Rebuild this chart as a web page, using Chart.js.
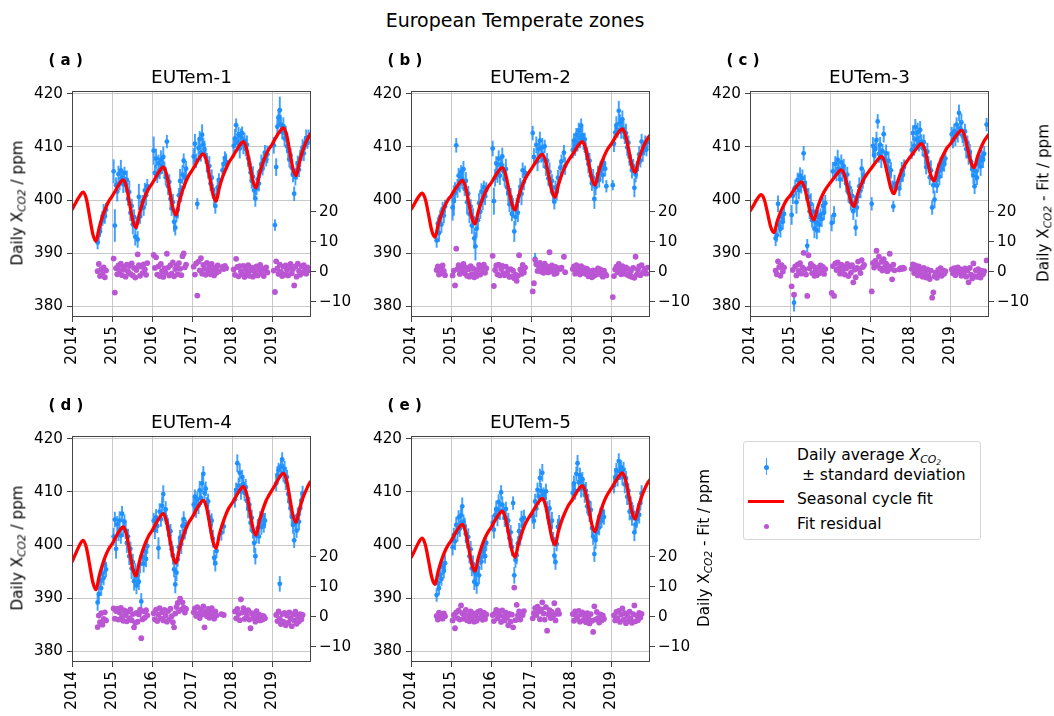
<!DOCTYPE html>
<html>
<head>
<meta charset="utf-8">
<script src="https://cdn.jsdelivr.net/npm/chart.js@4.4.1/dist/chart.umd.min.js"></script>
<style>
  body { margin: 0; background: #fff; font-family: 'DejaVu Sans', sans-serif; color: #000; }
  #fig { position: relative; width: 1054px; height: 716px; overflow: hidden; }
  #fig canvas { position: absolute; }
  .txt { position: absolute; white-space: nowrap; line-height: 1; }
  .ttl { font-size: 18.4px; width: 300px; margin-left: -150px; text-align: center; }
  .tag { font-size: 15px; font-weight: bold; }
  .ylab { font-size: 15.2px; transform: translate(-50%, -50%) rotate(-90deg); }
  .sub { font-style: italic; font-size: 70%; position: relative; top: 0.3em; }
  .sub2 { font-size: 70%; position: relative; top: 0.25em; }
  #legend { position: absolute; left: 743px; top: 441px; width: 236px; height: 97px;
            border: 1px solid #d6d6d6; border-radius: 3px; background: #fff; }
  .lg { position: absolute; white-space: nowrap; line-height: 1; font-size: 15.5px; }
</style>
</head>
<body>
<div id="fig">
  <div class="txt" style="left:315px;width:400px;text-align:center;top:11px;font-size:19px">European Temperate zones</div>
</div>
<script>
// observation days, one row per observing season
const obsYears = [
  [2014.64, 2014.67, 2014.70, 2014.73, 2014.76, 2014.79, 2014.82, 2014.85],
  [2015.04, 2015.07, 2015.10, 2015.13, 2015.16, 2015.19, 2015.22, 2015.25, 2015.28, 2015.31, 2015.34, 2015.37, 2015.40, 2015.43, 2015.46, 2015.49, 2015.52, 2015.55, 2015.58, 2015.61, 2015.64, 2015.67, 2015.70, 2015.73, 2015.76, 2015.79, 2015.82, 2015.85, 2015.88],
  [2016.04, 2016.07, 2016.10, 2016.13, 2016.16, 2016.19, 2016.22, 2016.25, 2016.28, 2016.31, 2016.34, 2016.37, 2016.40, 2016.43, 2016.46, 2016.49, 2016.52, 2016.55, 2016.58, 2016.61, 2016.64, 2016.67, 2016.70, 2016.73, 2016.76, 2016.79, 2016.82, 2016.85],
  [2017.04, 2017.07, 2017.10, 2017.13, 2017.16, 2017.19, 2017.22, 2017.25, 2017.28, 2017.31, 2017.34, 2017.37, 2017.40, 2017.43, 2017.46, 2017.49, 2017.52, 2017.55, 2017.58, 2017.61, 2017.64, 2017.67, 2017.70, 2017.73, 2017.76, 2017.79, 2017.82, 2017.85],
  [2018.04, 2018.07, 2018.10, 2018.13, 2018.16, 2018.19, 2018.22, 2018.25, 2018.28, 2018.31, 2018.34, 2018.37, 2018.40, 2018.43, 2018.46, 2018.49, 2018.52, 2018.55, 2018.58, 2018.61, 2018.64, 2018.67, 2018.70, 2018.73, 2018.76, 2018.79, 2018.82, 2018.85, 2018.88],
  [2019.04, 2019.07, 2019.10, 2019.13, 2019.16, 2019.19, 2019.22, 2019.25, 2019.28, 2019.31, 2019.34, 2019.37, 2019.40, 2019.43, 2019.46, 2019.49, 2019.52, 2019.55, 2019.58, 2019.61, 2019.64, 2019.67, 2019.70, 2019.73, 2019.76, 2019.79, 2019.82, 2019.85, 2019.88, 2019.91]
];

// sampling of the seasonal cycle fit
const fitYears = [
  [2014, 2014.08, 2014.17, 2014.28, 2014.36, 2014.44, 2014.52, 2014.6, 2014.68, 2014.76, 2014.84, 2014.92],
  [2015, 2015.08, 2015.17, 2015.28, 2015.36, 2015.44, 2015.52, 2015.6, 2015.68, 2015.76, 2015.84, 2015.92],
  [2016, 2016.08, 2016.17, 2016.28, 2016.36, 2016.44, 2016.52, 2016.6, 2016.68, 2016.76, 2016.84, 2016.92],
  [2017, 2017.08, 2017.17, 2017.28, 2017.36, 2017.44, 2017.52, 2017.6, 2017.68, 2017.76, 2017.84, 2017.92],
  [2018, 2018.08, 2018.17, 2018.28, 2018.36, 2018.44, 2018.52, 2018.6, 2018.68, 2018.76, 2018.84, 2018.92],
  [2019, 2019.08, 2019.17, 2019.28, 2019.36, 2019.44, 2019.52, 2019.6, 2019.68, 2019.76, 2019.84, 2019.92],
  [2020]
];

const yearTicks = [2014, 2015, 2016, 2017, 2018, 2019];
const ppmTicks = [380, 390, 400, 410, 420];
const residTicks = [-10, 0, 10, 20];
const panelNames = ['EUTem-1', 'EUTem-2', 'EUTem-3', 'EUTem-4', 'EUTem-5'];
const panelTags = ['( a )', '( b )', '( c )', '( d )', '( e )'];

// ---- EUTem-1
const fitA = [
  [398.2, 399.3, 400.5, 401.5, 400.2, 396.9, 393.6, 392.3, 394.8, 396.9, 398.5, 399.8],
  [400.7, 401.7, 402.9, 403.8, 402.5, 399.3, 396.1, 394.8, 397.3, 399.4, 401.0, 402.2],
  [403.1, 404.1, 405.3, 406.2, 404.9, 401.7, 398.5, 397.2, 399.7, 401.8, 403.4, 404.7],
  [405.6, 406.6, 407.8, 408.7, 407.4, 404.3, 401.1, 399.8, 402.3, 404.3, 405.8, 407.1],
  [408.0, 409.0, 410.1, 411.0, 409.7, 406.7, 403.6, 402.3, 404.8, 406.8, 408.4, 409.6],
  [410.5, 411.6, 412.7, 413.6, 412.3, 409.1, 405.9, 404.6, 407.1, 409.2, 410.8, 412.0],
  [412.9]
];
const xco2A = [
  [392.0, 393.6, 394.1, 395.8, 396.3, 397.6, 396.9, 398.2],
  [405.4, 395.2, 402.8, 401.6, 404.9, 403.1, 405.6, 404.2, 403.0, 405.1, 402.9, 403.8, 400.2, 401.5, 397.6, 398.9, 395.4, 396.8, 393.1, 395.6, 392.6, 400.6, 396.9, 398.4, 399.7, 398.6, 401.8, 400.9, 402.6],
  [409.3, 405.1, 407.8, 404.6, 406.9, 405.2, 407.6, 406.4, 408.1, 405.9, 404.3, 411.0, 402.6, 403.4, 400.2, 398.4, 399.6, 395.9, 394.8, 397.1, 398.2, 400.9, 403.6, 401.2, 404.8, 407.4, 404.2, 405.9],
  [408.2, 410.6, 407.4, 399.3, 409.8, 411.5, 408.9, 412.3, 410.4, 409.6, 408.1, 407.2, 405.5, 406.4, 403.1, 404.2, 401.8, 400.6, 398.9, 400.9, 402.4, 403.8, null, null, 405.6, 406.8, 407.9, 407.2],
  [410.2, 411.6, 414.1, 410.8, 412.4, 409.7, 411.9, 412.6, 410.3, 411.2, 409.6, 410.4, 407.8, 406.9, 405.2, 403.6, 404.4, 401.8, 400.3, 402.2, 403.9, 403.1, 405.5, 406.8, 405.9, 407.6, 408.9, 407.7, 408.6],
  [410.3, 395.3, 406.2, 413.8, 415.6, 416.9, 414.2, 412.8, 413.9, 411.6, 412.4, 410.1, 409.3, 407.6, 408.4, 406.1, 404.8, 401.2, 404.3, 405.6, 406.9, 405.7, 407.8, 408.6, 409.9, 408.8, 410.7, 411.6, 410.9, 411.8]
];
const sdA = [
  [1.2, 1.5, 1.0, 1.4, 1.1, 1.6, 1.3, 1.2],
  [2.2, 3.0, 1.4, 1.8, 1.5, 1.2, 1.9, 1.3, 1.6, 1.1, 1.4, 1.7, 1.2, 2.1, 1.5, 1.3, 1.8, 1.4, 1.6, 1.2, 1.5, 2.4, 1.3, 1.7, 1.2, 1.5, 1.4, 1.9, 1.3],
  [2.6, 1.5, 1.8, 1.3, 1.6, 1.2, 1.7, 1.4, 1.9, 1.3, 1.5, 1.2, 1.6, 1.4, 2.0, 1.3, 1.5, 1.8, 1.4, 1.2, 1.6, 1.3, 2.2, 1.5, 1.7, 1.3, 1.9, 1.4],
  [1.5, 1.8, 1.3, 1.0, 1.7, 1.4, 1.6, 1.9, 1.3, 1.5, 1.2, 1.6, 1.4, 1.8, 1.3, 1.5, 1.2, 1.7, 1.4, 1.3, 1.6, 1.2, 0, 0, 1.4, 1.3, 1.2, 1.5],
  [1.4, 1.7, 1.2, 1.6, 1.3, 1.8, 1.5, 1.2, 1.6, 1.4, 1.3, 1.7, 1.5, 1.2, 1.6, 1.4, 1.9, 1.3, 1.5, 1.2, 1.6, 1.4, 1.3, 1.7, 1.2, 1.5, 1.4, 1.3, 1.6],
  [1.5, 1.0, 1.6, 1.8, 1.4, 2.5, 1.7, 1.3, 1.6, 1.4, 1.5, 1.2, 1.7, 1.4, 1.3, 1.6, 1.4, 1.3, 1.5, 1.7, 1.4, 1.3, 1.6, 1.2, 1.5, 1.4, 1.3, 1.6, 1.2, 1.4]
];
const residA = [
  [0.2, 2.6, -1.4, 0.8, -0.9, 1.5, -1.8, 0.4],
  [4.4, -6.9, 1.2, -0.8, 2.1, 0.3, 2.7, -1.1, 1.6, 0.7, -1.6, 2.4, 0.1, 1.9, -0.7, 2.8, -1.2, 1.3, -1.9, 0.6, 5.8, 2.2, -1.3, 1.7, -0.4, 2.5, 0.8, -1.0, 2.9],
  [5.6, 1.3, 4.8, -0.9, 1.8, -1.4, 2.6, 0.2, -1.7, 1.1, -0.3, 6.0, 1.4, -1.2, 2.2, -0.6, 3.1, -1.5, 0.9, 2.0, -0.8, 2.9, 1.0, -1.1, 5.2, 6.1, 1.5, 2.4],
  [1.7, -0.9, 2.8, -7.9, 3.4, 0.5, 4.5, -0.6, 2.3, 1.0, -1.0, 3.0, 0.4, 1.8, -0.8, 2.6, 0.6, -1.2, 1.4, -0.3, 2.1, 0.2, null, null, 1.6, 0.9, 2.0, 1.2],
  [0.8, -1.0, 4.3, 1.6, -1.5, 1.9, 0.2, -0.8, 2.0, -1.7, 0.9, -0.4, 2.2, -1.3, 0.5, 1.4, -1.6, 0.3, -0.9, 1.8, -1.2, 0.6, 2.3, -0.6, 1.1, -1.4, 0.4, 1.5, -0.2],
  [0.4, -6.7, 3.5, 1.1, -0.7, 2.4, 0.0, -1.4, 1.7, -0.9, 2.1, 0.6, -1.2, 1.3, 2.6, -0.5, 0.9, -4.5, 1.8, -1.6, 2.7, 0.3, -1.0, 1.9, -0.3, 2.2, 0.8, -0.6, 1.5, 0.5]
];

// ---- EUTem-2
const fitB = [
  [398.2, 399.2, 400.4, 401.3, 400.1, 397.2, 394.2, 393.0, 395.4, 397.3, 398.8, 400.0],
  [400.8, 401.8, 402.8, 403.7, 402.5, 399.6, 396.7, 395.5, 397.8, 399.7, 401.2, 402.4],
  [403.2, 404.2, 405.3, 406.1, 404.9, 402.1, 399.3, 398.1, 400.4, 402.3, 403.8, 404.9],
  [405.8, 406.7, 407.8, 408.6, 407.4, 404.6, 401.7, 400.5, 402.8, 404.7, 406.2, 407.3],
  [408.2, 409.1, 410.2, 411.0, 409.8, 406.9, 404.0, 402.8, 405.1, 407.0, 408.5, 409.7],
  [410.5, 411.5, 412.6, 413.4, 412.2, 409.3, 406.4, 405.2, 407.4, 409.2, 410.6, 411.7],
  [412.5]
];
const xco2B = [
  [392.4, 395.6, 393.8, 396.9, 395.4, 398.3, 397.1, 398.8],
  [398.6, 399.9, 401.4, 410.3, 402.2, 404.6, 403.1, 405.3, 404.0, 405.8, 402.1, 403.6, 399.6, 401.2, 397.4, 398.8, 395.2, 396.6, 392.8, 391.3, 394.6, 396.2, 399.4, 397.8, 401.6, 399.9, 402.4, 400.7, 401.9],
  [409.7, 399.8, 404.2, 406.9, 405.1, 407.8, 404.6, 406.7, 408.2, 405.4, 403.9, 405.8, 402.4, 401.3, 399.2, 400.6, 397.4, 398.5, 394.1, 396.8, 398.9, 397.6, 400.8, 402.5, 401.2, 405.6, 403.4, 405.1],
  [412.6, 408.1, 389.0, 410.4, 407.3, 409.6, 411.2, 408.4, 409.9, 407.6, 410.1, 406.2, 407.4, 404.1, 405.3, 402.8, 403.6, 401.2, 399.7, 402.3, 401.5, 404.2, null, 406.1, 407.3, null, 408.9, 406.4],
  [409.4, 411.2, 410.1, 412.3, 410.8, 413.1, 411.6, 414.0, 412.2, 410.9, 411.4, 409.2, 408.6, 406.8, 407.4, 404.6, 403.1, 404.2, 400.2, 402.4, 403.6, 404.9, 403.8, 405.6, 406.2, 404.7, 406.8, 405.9, 402.6],
  [402.8, 410.6, 412.7, 414.1, 413.2, 416.8, 414.6, 412.9, 415.2, 413.4, 411.8, 412.6, 409.9, 410.8, 408.1, 407.2, 405.6, 406.4, 402.3, 404.8, 405.7, 406.9, 408.6, 407.4, 411.0, 408.9, 409.8, 410.6, 409.5, 410.9]
];
const sdB = [
  [1.3, 1.1, 1.6, 1.2, 1.5, 1.3, 1.4, 1.2],
  [2.4, 2.8, 1.9, 1.3, 1.7, 1.4, 1.6, 1.2, 1.8, 1.5, 1.3, 1.6, 2.2, 1.4, 1.7, 1.3, 1.5, 1.8, 1.9, 2.6, 1.6, 1.4, 1.9, 1.3, 1.5, 1.7, 1.2, 1.6, 1.4],
  [1.4, 2.5, 1.6, 1.3, 1.8, 1.5, 1.7, 1.2, 1.6, 1.4, 1.3, 1.9, 1.5, 1.7, 1.4, 1.6, 1.3, 1.8, 1.9, 1.5, 1.4, 1.7, 1.3, 1.6, 2.1, 1.4, 1.5, 1.3],
  [1.3, 1.6, 1.0, 1.5, 1.8, 1.4, 1.6, 1.3, 1.7, 1.5, 1.2, 1.6, 1.4, 1.3, 1.7, 1.5, 1.2, 1.6, 1.4, 1.3, 1.5, 1.4, 0, 1.3, 1.2, 0, 1.4, 1.6],
  [1.5, 1.3, 1.7, 1.2, 1.6, 1.4, 1.8, 1.3, 1.5, 1.4, 1.2, 1.6, 1.3, 1.7, 1.4, 1.5, 1.3, 1.6, 1.8, 1.4, 1.3, 1.5, 1.4, 1.6, 1.3, 1.5, 1.2, 1.4, 1.1],
  [0.9, 1.5, 1.3, 1.6, 1.4, 1.8, 1.5, 1.3, 1.6, 1.4, 1.2, 1.7, 1.5, 1.3, 1.6, 1.4, 1.5, 1.3, 1.7, 1.4, 1.6, 1.3, 1.5, 1.2, 1.4, 1.6, 1.3, 1.5, 1.2, 1.1]
];
const residB = [
  [0.6, 1.8, -0.9, 1.2, -0.4, 2.1, 0.3, -1.1],
  [-1.2, 0.4, -4.5, 7.7, 0.9, 2.2, -0.7, 1.8, 0.2, 2.6, -0.5, 1.4, -1.3, 0.8, -1.6, 1.9, -0.8, 1.1, -1.8, -0.6, -1.4, 0.7, 2.3, -0.9, 1.6, 0.1, 2.4, -0.3, 1.2],
  [5.3, -4.7, 0.6, 2.1, -0.8, 2.4, -1.2, 0.9, 2.0, -0.4, -1.1, 1.7, -0.6, 0.5, -1.7, 0.9, -1.5, 0.4, -2.1, -0.9, -3.0, -1.3, 5.5, 0.8, -0.7, 2.3, -0.2, 1.4],
  [-6.5, -3.8, 4.0, 2.5, 0.3, 1.9, 3.0, 0.1, 1.5, -0.3, 2.7, 0.4, 1.8, -0.2, 6.5, 0.6, 2.1, 0.2, -0.7, 1.6, -0.4, 1.2, null, 0.9, 1.4, null, 5.0, -0.1],
  [0.9, 1.8, -0.6, 2.2, 0.4, 1.6, -0.9, 1.9, 0.7, -0.4, 1.2, -0.7, 1.0, -1.5, 0.3, -1.1, -1.8, 0.5, -1.3, 0.2, -0.8, 1.1, -0.5, 0.8, -1.0, -1.6, 0.4, -0.7, -1.2],
  [-8.4, -1.4, 0.8, 1.7, -0.2, 2.6, 0.9, -0.8, 1.9, 0.4, -0.6, 1.5, -1.0, 0.9, -1.4, 0.2, -1.7, 1.3, -2.0, 5.0, -0.9, 0.6, 1.8, -1.1, 2.2, -0.4, 0.3, 1.0, -0.6, 1.4]
];

// ---- EUTem-3
const fitC = [
  [397.9, 398.9, 400.1, 401.0, 400.0, 397.5, 394.9, 393.9, 396.0, 397.7, 399.0, 400.1],
  [400.8, 401.7, 402.6, 403.4, 402.4, 399.9, 397.3, 396.3, 398.4, 400.1, 401.4, 402.4],
  [403.2, 404.0, 404.9, 405.7, 404.7, 402.3, 399.8, 398.8, 400.9, 402.6, 403.9, 404.9],
  [405.7, 406.5, 407.4, 408.2, 407.2, 404.7, 402.2, 401.2, 403.3, 405.0, 406.3, 407.3],
  [408.1, 408.9, 409.8, 410.6, 409.6, 407.1, 404.6, 403.6, 405.7, 407.4, 408.7, 409.8],
  [410.5, 411.4, 412.3, 413.1, 412.1, 409.6, 407.1, 406.1, 408.1, 409.7, 411.0, 411.9],
  [412.7]
];
const xco2C = [
  [392.8, 393.4, 399.3, 395.2, 394.6, 396.8, 395.9, 397.4],
  [397.2, 400.8, 380.7, 402.4, 399.6, 403.8, 401.9, 404.6, 402.7, 404.1, 408.8, 403.2, 401.8, 391.4, 400.6, 397.9, 399.3, 396.2, 397.8, 394.6, 395.9, 394.3, 396.8, 395.4, 397.2, 396.4, 398.9, 397.6, 399.4],
  [395.7, 405.4, 397.2, 406.8, 404.9, 407.6, 405.8, 403.9, 407.1, 405.2, 406.4, 404.6, 403.1, 404.8, 401.4, 402.3, 399.6, 400.8, 397.9, 399.4, 394.8, 398.6, 400.7, 402.6, 401.8, 405.9, 403.7, 404.4],
  [399.3, 410.2, 408.4, 409.6, 411.3, 414.8, 408.7, 410.4, 407.9, 409.2, 412.4, 407.6, 408.8, 406.2, 407.4, 404.9, 405.6, 402.4, 398.8, 403.1, null, null, null, 402.2, 403.8, 405.6, 404.7, 406.2],
  [409.4, 412.6, 410.2, 413.7, 411.4, 412.8, 410.6, 413.2, 411.0, 409.8, 410.9, 408.4, 406.2, 409.1, 406.7, 404.3, 405.6, 398.6, 402.8, 400.1, 403.9, 402.7, 405.2, 404.4, 406.6, 405.8, 407.4, 406.9, 407.8],
  [412.4, 411.3, 412.9, 411.8, 414.2, 412.6, 416.4, 413.5, 414.6, 412.1, 411.7, 412.9, 409.6, 410.8, 408.2, 409.1, 407.3, 405.8, 404.6, 402.6, 405.4, 404.2, 406.8, 407.5, 406.3, 408.1, 407.6, 408.7, null, 414.2]
];
const sdC = [
  [1.4, 1.2, 1.5, 1.3, 1.6, 1.2, 1.4, 1.3],
  [1.8, 1.5, 1.6, 1.4, 2.1, 1.3, 1.7, 1.5, 1.4, 1.6, 1.3, 1.5, 1.8, 1.2, 1.6, 1.4, 1.9, 1.3, 1.5, 1.7, 1.4, 1.6, 1.3, 1.5, 1.2, 1.4, 1.6, 1.3, 1.5],
  [1.5, 1.7, 1.6, 1.4, 1.3, 1.8, 1.5, 1.6, 1.4, 1.7, 1.3, 1.5, 1.6, 1.4, 1.8, 1.3, 1.5, 1.2, 1.6, 1.4, 1.5, 1.7, 1.3, 1.6, 1.4, 1.8, 1.5, 1.3],
  [1.2, 1.6, 1.4, 1.7, 1.5, 1.3, 1.6, 1.4, 1.8, 1.3, 1.5, 1.4, 1.6, 1.3, 1.7, 1.4, 1.5, 1.2, 1.0, 1.6, 0, 0, 0, 1.4, 1.3, 1.5, 1.2, 1.4],
  [1.6, 1.4, 1.8, 1.5, 1.3, 1.7, 1.4, 1.6, 1.3, 1.5, 1.4, 1.7, 1.3, 1.6, 1.5, 1.4, 1.8, 1.3, 1.5, 1.6, 1.4, 1.3, 1.7, 1.5, 1.4, 1.6, 1.3, 1.5, 1.4],
  [1.3, 1.5, 1.4, 1.6, 1.3, 1.7, 1.5, 1.4, 1.6, 1.3, 1.5, 1.4, 1.7, 1.3, 1.5, 1.4, 1.6, 1.3, 1.5, 1.4, 1.6, 1.3, 1.5, 1.4, 1.7, 1.3, 1.5, 1.4, 0, 1.2]
];
const residC = [
  [0.4, -0.8, 3.5, 1.6, -1.3, 2.2, 0.1, 1.4],
  [-4.8, 0.6, -7.6, 1.8, -1.2, 2.4, 0.3, 2.9, -0.6, 1.5, 6.3, 0.8, -0.9, -8.0, 5.5, 1.2, 2.6, -0.4, 1.9, -1.3, 0.6, -1.1, 1.4, -0.5, 2.1, 0.2, 1.6, -0.7, 0.9],
  [-7.0, 1.9, -8.0, 2.8, 0.6, 3.1, 1.2, -0.6, 2.4, 0.5, 1.8, -0.9, 1.1, 2.6, -1.4, 1.7, -0.3, 2.2, -3.5, 0.7, -1.8, 1.3, 3.4, 0.9, -0.4, 3.9, 1.6, 2.3],
  [-6.5, 2.9, 1.4, 3.6, 7.0, 2.2, 5.0, 1.1, 3.3, 0.4, 4.2, 1.6, 2.7, 0.2, 1.9, 6.0, 1.0, -2.5, 2.4, 0.5, null, null, null, 0.8, 1.2, 0.9, 1.4, 1.1],
  [1.0, 2.5, -0.4, 2.1, 0.6, -1.2, 1.8, -0.7, 0.9, -1.6, 1.3, -0.5, -1.9, 0.8, -1.1, -2.4, 0.4, -8.6, -6.8, -1.5, -0.3, -2.0, 0.6, -0.9, 1.2, -1.3, 0.5, -0.6, 0.2],
  [0.8, -0.5, 1.2, -1.1, 0.3, 1.5, -0.2, 0.9, -1.3, 0.6, -0.7, 1.1, -1.6, 0.4, -3.5, 1.3, -0.9, -2.2, 2.8, -1.4, 0.5, -1.7, 0.9, -0.6, -1.9, 0.3, -0.8, 0.2, null, 3.8]
];

// ---- EUTem-4
const fitD = [
  [396.8, 398.2, 399.7, 400.9, 399.5, 396.3, 393.0, 391.6, 394.2, 396.3, 398.0, 399.3],
  [400.2, 401.3, 402.5, 403.4, 402.1, 398.8, 395.5, 394.2, 396.8, 398.9, 400.5, 401.8],
  [402.7, 403.8, 405.0, 405.9, 404.5, 401.3, 397.9, 396.6, 399.2, 401.3, 403.0, 404.3],
  [405.2, 406.3, 407.5, 408.4, 407.1, 403.9, 400.7, 399.4, 402.0, 404.0, 405.7, 407.0],
  [407.9, 408.9, 410.1, 411.0, 409.7, 406.5, 403.2, 401.9, 404.5, 406.5, 408.2, 409.4],
  [410.4, 411.4, 412.6, 413.5, 412.2, 408.9, 405.6, 404.3, 406.7, 408.7, 410.2, 411.5],
  [412.3]
];
const xco2D = [
  [389.2, 390.8, 393.4, 391.9, 394.6, 393.8, 396.2, 395.4],
  [401.6, 404.8, 399.3, 403.9, 402.1, 404.6, 401.8, 405.9, 403.2, 404.4, 402.7, 400.4, 401.6, 397.9, 399.3, 395.6, 396.8, 393.2, 395.1, 392.4, 394.3, 393.1, 396.4, 389.4, 397.8, 396.5, 398.9, 397.4, 399.8],
  [404.6, 402.8, 405.2, 403.6, 399.4, 406.3, 404.9, 407.4, 409.6, 405.8, 406.7, 404.2, 403.4, 401.8, 402.6, 399.2, 398.1, 395.4, 392.6, 394.8, 397.3, 399.6, 401.4, 400.2, 403.6, 404.9, 402.7, 403.4],
  [407.6, 409.1, 406.8, 408.6, 407.4, 410.3, 408.9, 411.6, 413.4, 409.8, 410.6, 407.4, 408.2, 405.1, 403.9, 404.6, 401.2, 397.6, 396.6, 398.9, null, null, null, 402.3, null, 403.5, null, null],
  [null, 408.6, 410.4, 415.4, 411.2, 413.6, 410.1, 412.8, 411.5, 409.8, 410.9, 408.3, 406.8, 407.6, 404.2, 405.1, 402.6, 400.4, 397.9, 401.8, 403.2, 401.6, 404.8, 403.4, 405.6, 403.9, 404.6, null, null],
  [null, null, 411.6, 413.2, 414.1, 392.7, 414.8, 416.1, 413.6, 414.4, 411.9, 412.8, 409.6, 408.2, 406.9, 405.3, 403.8, 400.9, 404.2, 402.7, 405.6, 404.4, 406.9, 408.4, 409.7, null, null, null, null, null]
];
const sdD = [
  [1.5, 1.3, 1.6, 1.4, 1.7, 1.3, 1.5, 1.4],
  [1.6, 1.4, 1.8, 1.5, 1.3, 1.7, 1.5, 1.4, 1.6, 1.3, 1.5, 1.8, 1.4, 1.6, 1.3, 1.9, 1.5, 1.7, 1.4, 1.6, 1.8, 1.5, 1.7, 1.5, 1.4, 1.6, 1.3, 1.5, 1.4],
  [1.4, 1.6, 1.5, 1.3, 2.0, 1.5, 1.4, 1.7, 1.6, 1.3, 1.5, 1.4, 1.6, 1.8, 1.3, 1.5, 1.7, 1.4, 1.6, 1.5, 1.3, 1.7, 1.4, 1.8, 1.5, 1.4, 1.6, 1.3],
  [1.5, 1.3, 1.6, 1.4, 1.5, 1.7, 1.3, 1.6, 1.4, 1.5, 1.3, 1.6, 1.4, 1.5, 1.7, 1.3, 1.6, 1.4, 1.5, 1.3, 0, 0, 0, 1.4, 0, 1.3, 0, 0],
  [0, 1.5, 1.3, 1.6, 1.4, 1.7, 1.5, 1.3, 1.6, 1.4, 1.5, 1.3, 1.7, 1.4, 1.6, 1.5, 1.3, 1.8, 1.5, 1.4, 1.6, 1.3, 1.5, 1.4, 1.3, 1.5, 1.4, 0, 0],
  [0, 0, 1.4, 1.6, 1.3, 1.4, 1.5, 1.3, 1.6, 1.4, 1.5, 1.3, 1.6, 1.4, 1.5, 1.3, 1.6, 1.4, 1.5, 1.3, 1.4, 1.6, 1.3, 1.5, 1.4, 0, 0, 0, 0, 0]
];
const residD = [
  [-3.4, 0.4, -1.8, 1.2, -2.6, -0.7, 1.5, -1.2],
  [2.8, -0.6, 1.9, 2.6, -0.9, 1.4, 3.0, 0.2, -1.3, 2.1, 0.6, -1.5, 1.7, -0.4, 2.5, -1.1, 0.9, -3.5, -2.0, 1.3, -1.6, 0.8, 2.4, -7.1, -0.8, 1.8, -0.3, 2.2, 0.5],
  [1.2, -0.8, 2.4, -1.4, 0.7, 2.9, -0.5, 1.6, -1.2, 2.3, 0.4, -1.6, 1.9, -0.9, 2.7, 0.2, -1.8, -3.5, 1.1, 3.3, 4.6, 1.9, 6.0, 2.4, 4.8, 3.1, 1.4, 2.6],
  [1.5, 2.8, 0.3, 3.2, 1.1, -0.4, 2.4, 0.8, 3.5, -3.5, 1.7, 0.2, 2.6, -0.3, 1.4, 2.9, 0.5, -0.6, 1.8, 0.4, null, null, null, 0.9, null, 0.6, null, null],
  [null, 1.8, -0.5, 2.6, 0.9, -1.1, 5.8, 1.4, 2.9, -0.7, 1.6, 0.3, 2.2, -0.9, -3.8, 1.2, -0.4, 0.7, -1.6, 1.9, -0.6, 0.8, -1.2, 0.4, -0.9, 0.2, -0.5, null, null],
  [null, null, 0.6, -1.4, 1.8, -0.7, -2.4, 0.9, -1.6, 1.3, -2.8, 0.4, -1.9, 1.5, -0.6, -3.1, 0.8, -1.2, 1.7, -2.3, 0.2, -1.5, 0.9, -0.8, 0.6, null, null, null, null, null]
];

// ---- EUTem-5
const fitE = [
  [397.6, 398.8, 400.2, 401.3, 400.0, 397.0, 393.9, 392.6, 395.1, 397.1, 398.7, 399.9],
  [400.8, 401.9, 403.0, 403.9, 402.6, 399.5, 396.4, 395.1, 397.6, 399.6, 401.2, 402.4],
  [403.3, 404.4, 405.5, 406.4, 405.1, 402.1, 399.0, 397.7, 400.1, 402.1, 403.7, 404.9],
  [405.8, 406.8, 407.9, 408.8, 407.5, 404.4, 401.3, 400.0, 402.5, 404.5, 406.0, 407.3],
  [408.2, 409.2, 410.3, 411.2, 409.9, 406.9, 403.8, 402.5, 404.9, 406.9, 408.5, 409.7],
  [410.6, 411.6, 412.7, 413.6, 412.3, 409.3, 406.2, 404.9, 407.2, 409.1, 410.6, 411.8],
  [412.6]
];
const xco2E = [
  [390.6, 392.8, 391.9, 394.4, 393.6, 395.9, 395.1, 396.6],
  [399.6, 401.9, 400.7, 403.8, 402.4, 405.2, 403.1, 405.6, 407.3, 404.4, 403.6, 402.1, 400.8, 401.5, 397.9, 399.2, 395.6, 396.4, 393.1, 394.7, 392.6, 395.8, 394.3, 397.6, 396.9, 398.8, 399.6, 397.9, 400.4],
  [404.2, 402.9, 405.6, 406.8, 405.3, 408.1, 406.4, 409.9, 407.6, 406.2, 405.1, 406.8, 403.9, 404.6, 401.3, 402.4, 399.6, 407.9, 394.3, 397.2, 398.1, 400.3, 402.6, 401.4, 404.8, 403.6, 405.1, null],
  [405.4, 404.6, 408.2, 406.9, 410.4, 409.1, 412.6, 410.2, 413.6, 409.5, 408.7, 410.1, 406.6, 405.2, 406.9, 403.4, 404.6, 401.1, 398.0, 396.8, 400.2, 403.4, 404.2, null, null, null, null, null],
  [409.8, 411.6, 410.2, 413.4, 415.4, 411.8, 413.1, 410.6, 412.4, 411.1, 409.4, 410.2, 407.3, 408.1, 405.8, 406.6, 403.2, 401.6, 398.3, 400.9, 402.4, 404.1, 403.3, 405.4, 404.6, 406.2, 405.3, null, null],
  [null, 411.2, 412.8, 414.1, 412.6, 415.8, 413.9, 414.6, 412.8, 414.2, 411.4, 412.6, 409.1, 410.2, 406.3, 407.8, 405.2, 406.1, 402.4, 403.9, 404.8, 406.4, 405.7, 407.9, 409.7, null, null, null, null, null]
];
const sdE = [
  [1.2, 1.4, 1.3, 1.5, 1.2, 1.4, 1.3, 1.5],
  [1.5, 1.3, 1.6, 1.4, 1.7, 1.3, 1.5, 1.4, 1.6, 1.3, 1.5, 1.7, 1.4, 1.6, 1.3, 1.5, 1.4, 1.6, 1.5, 1.3, 1.7, 1.4, 1.6, 1.3, 1.5, 1.4, 1.6, 1.3, 1.5],
  [1.4, 1.6, 1.3, 1.5, 1.7, 1.4, 1.6, 1.3, 1.5, 1.4, 1.6, 1.3, 1.5, 1.4, 1.7, 1.3, 1.6, 1.2, 1.5, 1.4, 1.6, 1.3, 1.5, 1.4, 1.6, 1.3, 1.5, 0],
  [1.3, 1.5, 1.4, 1.6, 1.3, 1.5, 1.7, 1.4, 1.6, 1.3, 1.5, 1.4, 1.6, 1.3, 1.5, 1.4, 1.6, 1.3, 1.5, 1.4, 1.3, 1.5, 1.4, 0, 0, 0, 0, 0],
  [1.5, 1.4, 1.6, 1.3, 1.5, 1.7, 1.4, 1.6, 1.3, 1.5, 1.4, 1.6, 1.3, 1.5, 1.4, 1.6, 1.3, 1.5, 1.4, 1.6, 1.3, 1.5, 1.4, 1.6, 1.3, 1.5, 1.4, 0, 0],
  [0, 1.4, 1.6, 1.3, 1.5, 1.4, 1.6, 1.3, 1.5, 1.4, 1.6, 1.3, 1.5, 1.4, 1.6, 1.3, 1.5, 1.4, 1.6, 1.3, 1.5, 1.4, 1.6, 1.3, 1.5, 0, 0, 0, 0, 0]
];
const residE = [
  [0.3, -0.9, 1.4, -0.4, 0.8, -0.6, 1.1, 0.2],
  [-1.2, 0.6, -3.8, 1.5, -0.4, 2.1, -0.9, 3.8, 1.2, -0.6, 0.9, 2.3, -1.1, 0.5, -1.5, 1.8, -0.3, 1.1, -1.6, 0.4, -1.3, 1.6, -0.5, 2.0, 0.3, -1.0, 1.4, -0.7, 0.8],
  [0.6, -1.4, 1.2, 2.3, -0.5, 1.9, 0.4, -1.7, 2.1, 0.2, -1.2, 1.4, -0.3, -2.8, 1.0, -1.6, 0.7, -3.5, 9.7, -1.1, 4.0, 0.5, 1.8, -0.9, 1.3, 0.6, 1.9, null],
  [-0.5, 1.2, 2.9, 0.6, 3.4, 1.8, -0.8, 2.5, 4.8, 1.1, -0.9, 3.2, -4.6, 0.8, 2.2, -0.4, 1.6, 0.2, 4.5, -1.2, 1.0, 2.1, 1.0, null, null, null, null, null],
  [0.9, -1.3, 1.8, 0.2, -0.8, 2.0, -1.6, 0.7, 1.5, -1.1, 0.4, -1.8, 1.2, -0.6, -2.2, 0.9, -1.3, -5.0, 3.5, -0.9, 1.6, -0.4, -1.9, 0.8, -1.2, 0.5, -0.7, null, null],
  [null, 0.5, -1.2, 1.6, -0.4, 2.0, -1.7, 0.8, 2.8, -0.9, 1.2, -2.1, 0.3, -1.4, 1.7, -0.6, -2.0, 0.9, 3.8, -1.5, 0.4, -1.1, 1.3, -0.2, 1.0, null, null, null, null, null]
];

const BLUE = '#1e90ff';
const ERRBAR = 'rgba(30,144,255,0.85)';
const RED = '#ff0000';
const ORCHID = '#ba55d3';
const SPINE = '#444';

Chart.defaults.font.family = "'DejaVu Sans', sans-serif";
Chart.defaults.color = '#000';

const fig = document.getElementById('fig');

// left/top of each canvas; the plot area starts 60px in and 10px down
const panels = [
  { fit: fitA, xco2: xco2A, sd: sdA, resid: residA, left: 12,  top: 78,  leftLabel: true },
  { fit: fitB, xco2: xco2B, sd: sdB, resid: residB, left: 351, top: 78 },
  { fit: fitC, xco2: xco2C, sd: sdC, resid: residC, left: 690, top: 78,  rightLabel: true },
  { fit: fitD, xco2: xco2D, sd: sdD, resid: residD, left: 12,  top: 423, leftLabel: true },
  { fit: fitE, xco2: xco2E, sd: sdE, resid: residE, left: 351, top: 423, rightLabel: true }
];

const PLOT_W = 239, PLOT_H = 229, AXIS_W = 60, AXIS_H = 70, PAD_TOP = 10;

function addText(html, cls, style) {
  const d = document.createElement('div');
  d.className = 'txt ' + cls;
  d.innerHTML = html;
  Object.assign(d.style, style);
  fig.appendChild(d);
  return d;
}

function points(values, errs) {
  const pts = [], bars = [];
  obsYears.forEach((row, s) => row.forEach((t, i) => {
    const v = values[s][i];
    if (v == null) return;
    pts.push({ x: t, y: v });
    if (errs) bars.push({ x: t, y: [v - errs[s][i], v + errs[s][i]] });
  }));
  return { pts, bars };
}

// axes frame on top of the data, like matplotlib spines
const frame = {
  id: 'frame',
  afterDatasetsDraw(chart) {
    const { ctx, chartArea: a } = chart;
    ctx.save();
    ctx.strokeStyle = SPINE;
    ctx.lineWidth = 1;
    const l = Math.round(a.left) + 0.5, r = Math.round(a.right) - 0.5;
    const t = Math.round(a.top) + 0.5, b = Math.round(a.bottom) - 0.5;
    ctx.strokeRect(l, t, r - l, b - t);
    ctx.restore();
  }
};

const tickFont = { size: 15.2 };
const gridStyle = { color: '#c8c8c8', lineWidth: 1, tickColor: SPINE, tickLength: 5, tickWidth: 1, offset: false };

panels.forEach((p, k) => {
  const canvas = document.createElement('canvas');
  canvas.width = AXIS_W * 2 + PLOT_W;
  canvas.height = PAD_TOP + PLOT_H + AXIS_H;
  canvas.style.left = p.left + 'px';
  canvas.style.top = p.top + 'px';
  fig.appendChild(canvas);

  const obs = points(p.xco2, p.sd);
  const res = points(p.resid);
  const fit = [];
  fitYears.forEach((row, s) => row.forEach((t, i) => fit.push({ x: t, y: p.fit[s][i] })));

  new Chart(canvas, {
    type: 'scatter',
    data: {
      datasets: [
        { type: 'scatter', data: res.pts, yAxisID: 'y2', backgroundColor: ORCHID,
          pointRadius: 2.9, borderWidth: 0, order: 0 },
        { type: 'line', data: fit, yAxisID: 'y', borderColor: RED, borderWidth: 3.3,
          pointRadius: 0, cubicInterpolationMode: 'monotone', clip: 0, order: 1 },
        { type: 'scatter', data: obs.pts, yAxisID: 'y', backgroundColor: BLUE,
          pointRadius: 2.4, borderWidth: 0, order: 2 },
        { type: 'bar', data: obs.bars, yAxisID: 'y', backgroundColor: ERRBAR,
          barThickness: 1.3, borderWidth: 0, order: 3 }
      ]
    },
    options: {
      responsive: false,
      animation: false,
      events: [],
      devicePixelRatio: 1,
      layout: { padding: { top: PAD_TOP, left: 0, right: 0, bottom: 0 } },
      plugins: { legend: { display: false }, tooltip: { enabled: false } },
      scales: {
        x: {
          type: 'linear', min: 2014, max: 2019.97, offset: false,
          afterBuildTicks: s => { s.ticks = yearTicks.map(v => ({ value: v })); },
          afterFit: s => { s.height = AXIS_H; },
          ticks: { autoSkip: false, minRotation: 90, maxRotation: 90, padding: 4,
                   font: tickFont, callback: v => String(v) },
          grid: gridStyle,
          border: { display: false }
        },
        y: {
          position: 'left', min: 378, max: 420.5,
          afterBuildTicks: s => { s.ticks = ppmTicks.map(v => ({ value: v })); },
          afterFit: s => { s.width = AXIS_W; },
          ticks: { padding: 4, font: tickFont, callback: v => String(v) },
          grid: gridStyle,
          border: { display: false }
        },
        y2: {
          position: 'right', min: -15, max: 60,
          afterBuildTicks: s => { s.ticks = residTicks.map(v => ({ value: v })); },
          afterFit: s => { s.width = AXIS_W; },
          ticks: { padding: 3, font: tickFont, callback: v => v < 0 ? '\u2212' + (-v) : String(v) },
          grid: { drawOnChartArea: false, tickColor: SPINE, tickLength: 5, tickWidth: 1 },
          border: { display: false }
        }
      }
    },
    plugins: [frame]
  });

  const plotLeft = p.left + AXIS_W, plotTop = p.top + PAD_TOP;
  addText(panelNames[k], 'ttl', { left: (plotLeft + PLOT_W / 2) + 'px', top: (plotTop - 20.4) + 'px' });
  addText(panelTags[k], 'tag', { left: (plotLeft - 23.5) + 'px', top: (plotTop - 35.5) + 'px' });
  const midY = (plotTop + PLOT_H / 2) + 'px';
  if (p.leftLabel) {
    addText('Daily X<span class="sub">CO2</span> / ppm', 'ylab', { left: '18px', top: midY });
  }
  if (p.rightLabel) {
    addText('Daily X<span class="sub">CO2</span> - Fit / ppm', 'ylab',
      { left: (plotLeft + PLOT_W + 55) + 'px', top: midY });
  }
});

// legend
const legend = document.createElement('div');
legend.id = 'legend';
fig.appendChild(legend);
function lg(html, left, top) {
  const d = document.createElement('div');
  d.className = 'lg';
  d.innerHTML = html;
  d.style.left = left + 'px';
  d.style.top = top + 'px';
  legend.appendChild(d);
}
function swatch(style) {
  const d = document.createElement('div');
  Object.assign(d.style, { position: 'absolute' }, style);
  legend.appendChild(d);
}
// coordinates inside the legend box (box at 743,441 + 1px border)
swatch({ left: '22px', top: '16px', width: '1px', height: '17px', background: ERRBAR });
swatch({ left: '20px', top: '22.5px', width: '5px', height: '5px', borderRadius: '50%', background: BLUE });
swatch({ left: '4px', top: '57.5px', width: '36px', height: '3px', background: RED });
swatch({ left: '20px', top: '82px', width: '5px', height: '5px', borderRadius: '50%', background: ORCHID });
lg('Daily average <i>X</i><span class="sub">CO<span class="sub2">2</span></span>', 53, 5.6);
lg('&nbsp;\u00b1 standard deviation', 53, 25.9);
lg('Seasonal cycle fit', 53, 49.9);
lg('Fit residual', 53, 74.9);
</script>
</body>
</html>
